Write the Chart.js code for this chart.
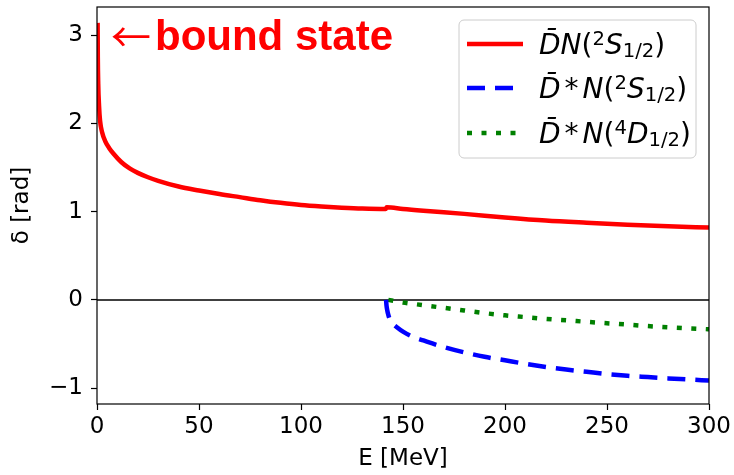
<!DOCTYPE html>
<html>
<head>
<meta charset="utf-8">
<script src="https://cdn.jsdelivr.net/npm/chart.js@4.4.1/dist/chart.umd.min.js"></script>
<style>
  html, body { margin: 0; padding: 0; background: #fff; }
  #wrap { width: 734px; height: 475px; }
</style>
</head>
<body>
<div id="wrap"><canvas id="phaseChart" width="734" height="475"></canvas></div>
<script>
// D̄N (2S1/2) phase shift, rad
const energyDN = [0.3, 0.4, 0.6, 1.0, 1.5, 2.5, 4, 6, 8, 12, 16, 20, 25, 30, 40, 50, 60, 70, 80, 90, 100, 110, 120, 130, 141.5, 142, 150, 160, 180, 200, 220, 240, 260, 280, 300];
const phaseDN = [3.14, 2.75, 2.45, 2.2, 2.03, 1.9, 1.8, 1.72, 1.66, 1.56, 1.49, 1.44, 1.39, 1.35, 1.285, 1.24, 1.2, 1.165, 1.13, 1.1, 1.075, 1.058, 1.045, 1.035, 1.03, 1.05, 1.03, 1.01, 0.975, 0.935, 0.9, 0.875, 0.853, 0.835, 0.82];

// D̄*N (2S1/2)
const energyDstarS = [141.7, 141.9, 142.3, 142.8, 143.5, 145, 147, 150, 155, 160, 170, 180, 190, 200, 210, 220, 230, 240, 250, 260, 270, 280, 290, 300];
const phaseDstarS = [0, -0.06, -0.12, -0.17, -0.22, -0.27, -0.31, -0.36, -0.42, -0.46, -0.535, -0.595, -0.645, -0.685, -0.725, -0.76, -0.79, -0.815, -0.84, -0.86, -0.875, -0.89, -0.902, -0.915];

// D̄*N (4D1/2)
const energyDstarD = [142.8, 150, 160, 170, 180, 190, 200, 210, 220, 235, 250, 260, 270, 280, 290, 300];
const phaseDstarD = [0, -0.03, -0.06, -0.09, -0.12, -0.15, -0.175, -0.195, -0.215, -0.24, -0.265, -0.28, -0.297, -0.31, -0.322, -0.333];

const zeroLineE = [0, 300];
const zeroLineV = [0, 0];

const xTicks = [0, 50, 100, 150, 200, 250, 300];
const yTicks = [-1, 0, 1, 2, 3];

const legendLabels = [
  [{ t: "D\u0304", i: true }, { t: "N", i: true }, { t: "(" }, { t: "2", s: 0.7, r: 0.32 }, { t: "S", i: true }, { t: "1/2", s: 0.7, r: -0.09 }, { t: ")" }],
  [{ t: "D\u0304", i: true }, { t: "*", k: 4, pre: 4 }, { t: "N", i: true }, { t: "(" }, { t: "2", s: 0.7, r: 0.32 }, { t: "S", i: true }, { t: "1/2", s: 0.7, r: -0.09 }, { t: ")" }],
  [{ t: "D\u0304", i: true }, { t: "*", k: 4, pre: 4 }, { t: "N", i: true }, { t: "(" }, { t: "4", s: 0.7, r: 0.32 }, { t: "D", i: true }, { t: "1/2", s: 0.7, r: -0.09 }, { t: ")" }]
];

function toPoints(xs, ys) {
  return xs.map((x, i) => ({ x: x, y: ys[i] }));
}

Chart.defaults.font.family = "'DejaVu Sans'";
Chart.defaults.font.size = 23;
Chart.defaults.color = "#000";

function drawRich(ctx, x, y, parts, size) {
  parts.forEach(function (p) {
    const s = size * (p.s || 1);
    ctx.font = (p.i ? "italic " : "") + s + "px 'DejaVu Sans'";
    x += p.pre || 0;
    ctx.fillText(p.t, x, y - (p.r || 0) * size);
    x += ctx.measureText(p.t).width + (p.k || 0);
  });
}

const decorations = {
  id: "decorations",
  afterDraw(chart) {
    const ctx = chart.ctx;
    const a = chart.chartArea;
    ctx.save();

    // frame
    ctx.strokeStyle = "#000";
    ctx.lineWidth = 1.2;
    ctx.setLineDash([]);
    ctx.strokeRect(a.left, a.top, a.right - a.left, a.bottom - a.top);

    // annotation
    ctx.fillStyle = "#ff0000";
    ctx.textBaseline = "alphabetic";
    ctx.font = "40px 'Noto Sans CJK JP'";
    ctx.fillText("\u2190", a.left + 14, a.top + 45);
    ctx.font = "bold 42px 'Liberation Sans'";
    ctx.fillText("bound state", a.left + 58, a.top + 43);

    // legend
    const bx = 459, by = 20, bw = 237, bh = 138;
    ctx.beginPath();
    ctx.roundRect(bx, by, bw, bh, 5);
    ctx.fillStyle = "rgba(255,255,255,0.8)";
    ctx.fill();
    ctx.strokeStyle = "#cccccc";
    ctx.lineWidth = 1;
    ctx.stroke();

    const rows = [44, 88, 133];
    chart.data.datasets.slice(0, 3).forEach(function (ds, i) {
      ctx.beginPath();
      ctx.strokeStyle = ds.borderColor;
      ctx.lineWidth = ds.borderWidth;
      ctx.setLineDash(ds.borderDash || []);
      ctx.moveTo(467, rows[i]);
      ctx.lineTo(523, rows[i]);
      ctx.stroke();
      ctx.setLineDash([]);
      ctx.fillStyle = "#000";
      drawRich(ctx, 539, rows[i] + 10.3, legendLabels[i], 28);
    });

    ctx.restore();
  }
};

const ctx = document.getElementById("phaseChart").getContext("2d");

new Chart(ctx, {
  type: "line",
  data: {
    datasets: [
      {
        label: "DN 2S1/2",
        data: toPoints(energyDN, phaseDN),
        borderColor: "#ff0000",
        borderWidth: 4.5,
        pointRadius: 0,
        cubicInterpolationMode: "monotone",
      },
      {
        label: "D*N 2S1/2",
        data: toPoints(energyDstarS, phaseDstarS),
        borderColor: "#0000ff",
        borderWidth: 4.5,
        borderDash: [18, 10],
        pointRadius: 0,
        cubicInterpolationMode: "monotone",
      },
      {
        label: "D*N 4D1/2",
        data: toPoints(energyDstarD, phaseDstarD),
        borderColor: "#008000",
        borderWidth: 4.5,
        borderDash: [5, 9.5],
        pointRadius: 0,
        cubicInterpolationMode: "monotone",
      },
      {
        label: "zero",
        data: toPoints(zeroLineE, zeroLineV),
        borderColor: "#000",
        borderWidth: 1.5,
        pointRadius: 0,
      },
    ],
  },
  options: {
    responsive: false,
    animation: false,
    devicePixelRatio: 1,
    layout: { padding: { left: 0, top: 7, right: 25, bottom: 0 } },
    plugins: {
      legend: { display: false },
      tooltip: { enabled: false },
    },
    scales: {
      x: {
        type: "linear",
        min: 0,
        max: 300,
        afterBuildTicks: function (s) { s.ticks = xTicks.map(v => ({ value: v })); },
        afterFit: function (s) { s.height = 71; s.paddingLeft = 0; s.paddingRight = 0; },
        grid: { drawOnChartArea: false, drawTicks: true, tickLength: 6, tickWidth: 1.2, tickColor: "#000" },
        border: { display: false },
        ticks: { color: "#000", padding: 3, maxRotation: 0, autoSkip: false },
        title: { display: true, text: "E [MeV]", color: "#000", padding: { top: 0, bottom: 2 } },
      },
      y: {
        type: "linear",
        min: -1.18,
        max: 3.32,
        afterBuildTicks: function (s) { s.ticks = yTicks.map(v => ({ value: v })); },
        afterFit: function (s) { s.width = 97; s.paddingTop = 0; s.paddingBottom = 0; },
        grid: { drawOnChartArea: false, drawTicks: true, tickLength: 6, tickWidth: 1.2, tickColor: "#000" },
        border: { display: false },
        ticks: {
          color: "#000",
          padding: 8,
          autoSkip: false,
          callback: function (v) { return String(v).replace("-", "\u2212"); },
        },
        title: { display: true, text: "\u03b4 [rad]", color: "#000", padding: { top: 8, bottom: 0 } },
      },
    },
  },
  plugins: [decorations],
});
</script>
</body>
</html>
